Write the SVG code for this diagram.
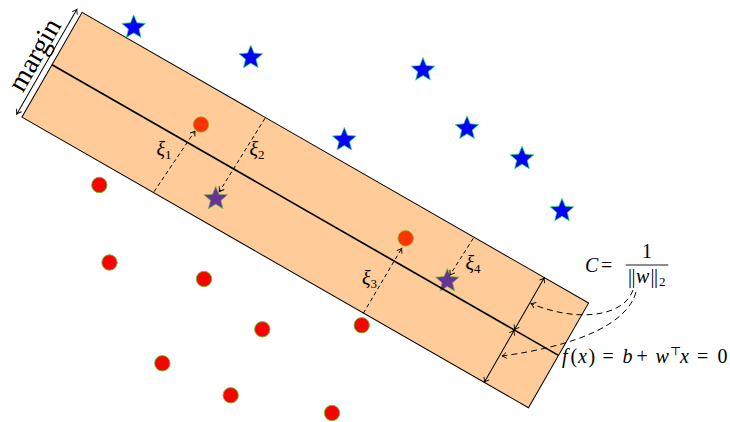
<svg xmlns="http://www.w3.org/2000/svg" width="730" height="422" viewBox="0 0 730 422">
<style>
.blue{fill:#0000ff;stroke:#33ee66;stroke-width:0.8}
.red{fill:#ff0000;stroke:#55cc33;stroke-width:0.9}
.edge{stroke:#000;stroke-width:1;fill:none}
.dash{stroke:#000;stroke-width:1;fill:none;stroke-dasharray:4,3}
.curve{stroke:#000;stroke-width:1;fill:none;stroke-dasharray:6,4}
.lbl{font-family:"Liberation Serif","DejaVu Serif",serif;fill:#000}
.it{font-style:italic}
</style>
<defs>
<polygon id="star" points="0,-12.5 3.29,-4.53 11.89,-3.86 5.33,1.73 7.35,10.11 0,5.6 -7.35,10.11 -5.33,1.73 -11.89,-3.86 -3.29,-4.53"/>
<marker id="ah" viewBox="-6 -4 8 8" markerWidth="8" markerHeight="8" refX="0" refY="0" orient="auto-start-reverse" markerUnits="userSpaceOnUse">
<path d="M-4.5,-3 Q-1.5,-0.6 0,0 Q-1.5,0.6 -4.5,3" fill="none" stroke="#000" stroke-width="0.9"/>
</marker>
</defs>
<g id="points">
<use href="#star" class="blue" x="133.7" y="27.3"/>
<use href="#star" class="blue" x="250.8" y="57.6"/>
<use href="#star" class="blue" x="423" y="70"/>
<use href="#star" class="blue" x="344.3" y="139.9"/>
<use href="#star" class="blue" x="467" y="128.3"/>
<use href="#star" class="blue" x="522" y="158.6"/>
<use href="#star" class="blue" x="562" y="210.7"/>
<use href="#star" class="blue" x="215.7" y="198.7"/>
<use href="#star" class="blue" x="447.3" y="281"/>
<circle class="red" cx="201" cy="124.5" r="7.7"/>
<circle class="red" cx="405.7" cy="238.3" r="7.7"/>
<circle class="red" cx="99.3" cy="185" r="7.7"/>
<circle class="red" cx="109.5" cy="262.5" r="7.7"/>
<circle class="red" cx="204" cy="279" r="7.7"/>
<circle class="red" cx="262.3" cy="329.3" r="7.7"/>
<circle class="red" cx="361.7" cy="325.3" r="7.7"/>
<circle class="red" cx="162.3" cy="363.3" r="7.7"/>
<circle class="red" cx="230.7" cy="395.3" r="7.7"/>
<circle class="red" cx="332" cy="413" r="7.7"/>
</g>
<g id="band" transform="translate(52,64.7) rotate(29.85)">
<rect x="0" y="-60.4" width="584" height="120.8" fill="#ff8000" fill-opacity="0.4" stroke="#000" stroke-width="1"/>
<line x1="0" y1="0" x2="584" y2="0" stroke="#000" stroke-width="1.7"/>
<line class="edge" x1="-6" y1="-60.5" x2="-6" y2="60.5" marker-start="url(#ah)" marker-end="url(#ah)"/>
<text class="lbl" transform="translate(-11,0) rotate(-90)" text-anchor="middle" font-size="28">margin</text>
<line class="edge" x1="533" y1="-60.2" x2="533" y2="-0.3" marker-start="url(#ah)" marker-end="url(#ah)"/>
<line class="edge" x1="533" y1="0.3" x2="533" y2="60.2" marker-start="url(#ah)" marker-end="url(#ah)"/>
</g>
<g id="connectors">
<line class="dash" x1="154" y1="191.7" x2="195" y2="131" marker-end="url(#ah)"/>
<line class="dash" x1="265" y1="118.3" x2="219.3" y2="191.7" marker-end="url(#ah)"/>
<line class="dash" x1="363.3" y1="313.3" x2="401.7" y2="248.3" marker-end="url(#ah)"/>
<line class="dash" x1="473.3" y1="238.3" x2="450" y2="275" marker-end="url(#ah)"/>
<path class="curve" d="M633,290 C623,318 575,322 531,303.5" marker-end="url(#ah)"/>
<path class="curve" d="M636,292 C627,325 575,346 502,356" marker-end="url(#ah)"/>
</g>
<g id="labels" class="lbl">
<text x="156.5" y="156" font-size="20"><tspan class="it">ξ</tspan><tspan font-size="13" dy="3">1</tspan></text>
<text x="249.5" y="156" font-size="20"><tspan class="it">ξ</tspan><tspan font-size="13" dy="3">2</tspan></text>
<text x="362" y="285" font-size="20"><tspan class="it">ξ</tspan><tspan font-size="13" dy="3">3</tspan></text>
<text x="465.5" y="270" font-size="20"><tspan class="it">ξ</tspan><tspan font-size="13" dy="3">4</tspan></text>
</g>
<g id="formula-C" class="lbl" font-size="20">
<text x="585" y="272" class="it">C</text>
<text x="601" y="272">=</text>
<text x="647" y="258" text-anchor="middle">1</text>
<line x1="625.7" y1="265" x2="668.3" y2="265" stroke="#000" stroke-width="0.9"/>
<text y="283"><tspan x="628">|</tspan><tspan x="631.5">|</tspan><tspan x="636" class="it">w</tspan><tspan x="650.5">|</tspan><tspan x="654">|</tspan><tspan x="659" font-size="13" dy="3">2</tspan></text>
</g>
<g id="formula-f" class="lbl" font-size="20">
<text y="363"><tspan x="562" class="it">f</tspan><tspan x="570.5">(</tspan><tspan x="578" class="it">x</tspan><tspan x="588.5">)</tspan><tspan x="602.5">=</tspan><tspan x="622.5" class="it">b</tspan><tspan x="636.5">+</tspan><tspan x="655.5" class="it">w</tspan><tspan x="670" font-size="12" dy="-8">⊤</tspan><tspan x="680" class="it" dy="8">x</tspan><tspan x="697">=</tspan><tspan x="717.5">0</tspan></text>
</g>
</svg>
